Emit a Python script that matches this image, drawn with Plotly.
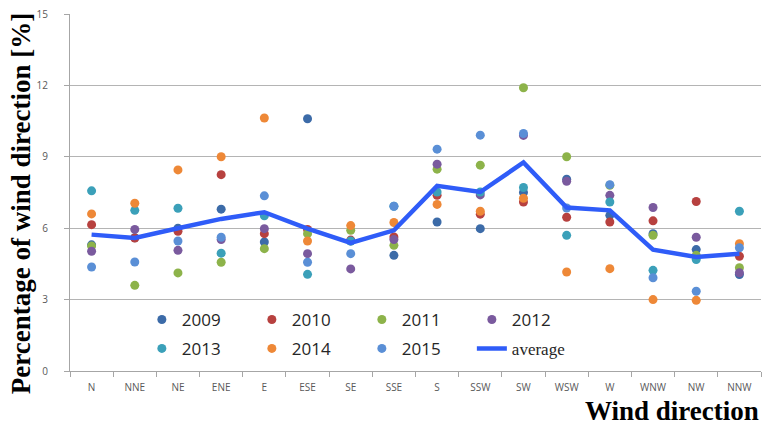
import plotly.graph_objects as go

categories = ["N", "NNE", "NE", "ENE", "E", "ESE", "SE", "SSE", "S", "SSW",
              "SW", "WSW", "W", "WNW", "NW", "NNW"]

y2009 = [5.30, 5.60, 6.00, 6.80, 5.42, 10.60, 5.46, 4.86, 6.26, 5.98, 7.50, 8.06, 6.54, 5.77, 5.10, 4.05]
y2010 = [6.15, 5.59, 5.87, 8.25, 5.77, 5.95, 5.50, 5.63, 7.38, 6.59, 7.10, 6.46, 6.26, 6.31, 7.12, 4.82]
y2011 = [5.25, 3.60, 4.12, 4.57, 5.14, 5.77, 5.91, 5.28, 8.48, 8.65, 11.90, 9.00, 7.80, 5.70, 4.86, 4.34]
y2012 = [5.03, 5.95, 5.07, 5.52, 5.98, 4.93, 4.29, 5.52, 8.69, 7.40, 9.90, 7.97, 7.38, 6.87, 5.62, 4.13]
y2013 = [7.57, 6.75, 6.84, 4.95, 6.52, 4.06, 5.46, 6.92, 7.52, 7.52, 7.71, 5.70, 7.10, 4.23, 4.68, 6.71]
y2014 = [6.60, 7.05, 8.45, 9.00, 10.63, 5.46, 6.11, 6.24, 7.00, 6.71, 7.26, 4.16, 4.30, 3.00, 2.97, 5.35]
y2015 = [4.37, 4.58, 5.46, 5.62, 7.36, 4.57, 4.93, 6.92, 9.32, 9.91, 9.98, 6.85, 7.83, 3.92, 3.35, 5.18]
average = [5.73, 5.59, 6.00, 6.39, 6.67, 5.98, 5.38, 5.91, 7.78, 7.52, 8.76, 6.87, 6.75, 5.10, 4.79, 4.93]

years = ["2009", "2010", "2011", "2012", "2013", "2014", "2015"]
series = [y2009, y2010, y2011, y2012, y2013, y2014, y2015]
colors = ["#3C6BA8", "#B7413F", "#8DB34A", "#7A5A9E", "#3BA0B9", "#EE8837", "#5A8FD6"]

fig = go.Figure()
for i, (name, vals, col) in enumerate(zip(years, series, colors)):
    fig.add_trace(go.Scatter(
        x=categories, y=vals, mode="markers", name=name,
        marker=dict(color=col, size=9, line=dict(width=0)),
        legend="legend" if i < 4 else "legend2",
    ))

fig.add_trace(go.Scatter(
    x=categories, y=average, mode="lines",
    name='<span style="font-family:Liberation Serif">average</span>',
    line=dict(color="#2F5CF8", width=4.5),
    legend="legend2",
))

legend_common = dict(
    orientation="h", xanchor="left", yanchor="middle",
    font=dict(family="Open Sans, sans-serif", size=17, color="#262626"),
    bgcolor="rgba(255,255,255,0)", entrywidth=65, entrywidthmode="pixels",
    itemsizing="trace", tracegroupgap=0,
)

fig.update_layout(
    width=775, height=426,
    margin=dict(l=70, r=14, t=14, b=55, autoexpand=False),
    plot_bgcolor="white", paper_bgcolor="white",
    showlegend=True,
    legend=dict(x=0.104, y=0.143, **legend_common),
    legend2=dict(x=0.104, y=0.062, **legend_common),
    xaxis=dict(
        type="category", tickson="boundaries", ticks="outside", ticklen=5,
        tickcolor="#A6A6A6", showline=True, linecolor="#A6A6A6", linewidth=1,
        showgrid=False, automargin=False, ticklabelstandoff=7,
        tickfont=dict(family="Liberation Sans Narrow, Open Sans, sans-serif", size=10, color="#595959"),
        range=[-0.5, 15.5],
    ),
    yaxis=dict(
        range=[0, 15], dtick=3, tick0=0, ticks="outside", ticklen=5,
        tickcolor="#A6A6A6", showline=True, linecolor="#A6A6A6", linewidth=1,
        showgrid=True, gridcolor="#B4B4B4", gridwidth=1, zeroline=False,
        automargin=False,
        tickfont=dict(family="Open Sans, sans-serif", size=10, color="#595959"),
        ticklabelstandoff=14,
    ),
    annotations=[
        dict(text="<b>Percentage of wind direction [%]</b>", xref="paper", yref="paper",
             x=-0.071, y=0.47, textangle=-90, showarrow=False,
             xanchor="center", yanchor="middle",
             font=dict(family="Liberation Serif, serif", size=27, color="black")),
        dict(text="<b>Wind direction</b>", xref="paper", yref="paper",
             x=0.871, y=-0.112, showarrow=False, xanchor="center", yanchor="middle",
             font=dict(family="Liberation Serif, serif", size=27, color="black")),
    ],
)

fig.write_html("out.html", config={"displayModeBar": False},
               post_script="document.body.style.margin='0px';")
